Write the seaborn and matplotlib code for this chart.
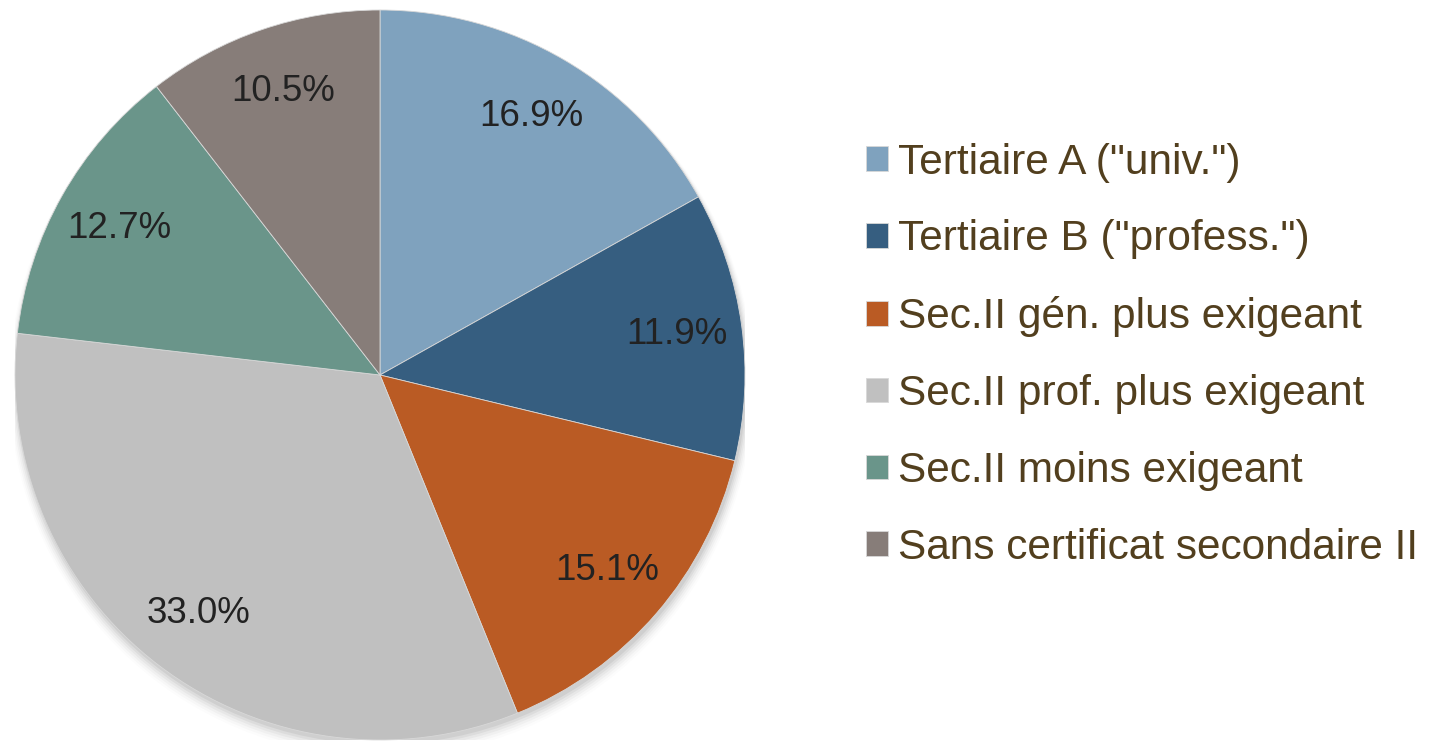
import numpy as np
import pandas as pd
import matplotlib
matplotlib.use("Agg")
import matplotlib.pyplot as plt
import seaborn as sns
from matplotlib.patches import Circle

# Data
categories = ['Tertiaire A ("univ.")', 'Tertiaire B ("profess.")', 'Sec.II gén. plus exigeant',
              'Sec.II prof. plus exigeant', 'Sec.II moins exigeant', 'Sans certificat secondaire II']
shares = [16.9, 11.9, 15.1, 33.0, 12.7, 10.5]
colors = ['#7fa2be', '#365e80', '#ba5b24', '#c0c0c0', '#6a958a', '#877d79']

df = pd.DataFrame({"category": categories, "share": shares})

sns.set_style("white")
plt.rcParams['font.family'] = ['Liberation Sans', 'DejaVu Sans']

fig = plt.figure(figsize=(14.31, 7.43), dpi=100)
ax = fig.add_axes([15 / 1431, 3 / 743, 730 / 1431, 730 / 743])

# soft shadow below the pie
for i, a in enumerate(np.linspace(0.05, 0.01, 6)):
    ax.add_patch(Circle((0.004, -0.012 - i * 0.003), 1.0 + i * 0.004, color='black',
                        alpha=a, lw=0, zorder=0))

wedges, texts, autotexts = ax.pie(df["share"], colors=sns.color_palette(colors), startangle=90,
                                  counterclock=False, autopct='%1.1f%%', pctdistance=0.82,
                                  wedgeprops=dict(linewidth=0.6, edgecolor='#d8d8d8'),
                                  textprops=dict(fontsize=26.5, color='#222222'))
for w in wedges:
    w.set_zorder(2)
for t in autotexts:
    t.set_zorder(3)
ax.set_xlim(-1, 1)
ax.set_ylim(-1, 1)
ax.set_aspect('equal')
ax.axis('off')

leg = fig.legend(wedges, df["category"], loc='center left', bbox_to_anchor=(0.605, 0.522),
                 frameon=False, fontsize=30.5, labelcolor='#523f1e', handlelength=0.52,
                 handleheight=0.52, handletextpad=0.24, labelspacing=0.87, borderpad=0,
                 borderaxespad=0)

plt.savefig("out.png", dpi=100)
